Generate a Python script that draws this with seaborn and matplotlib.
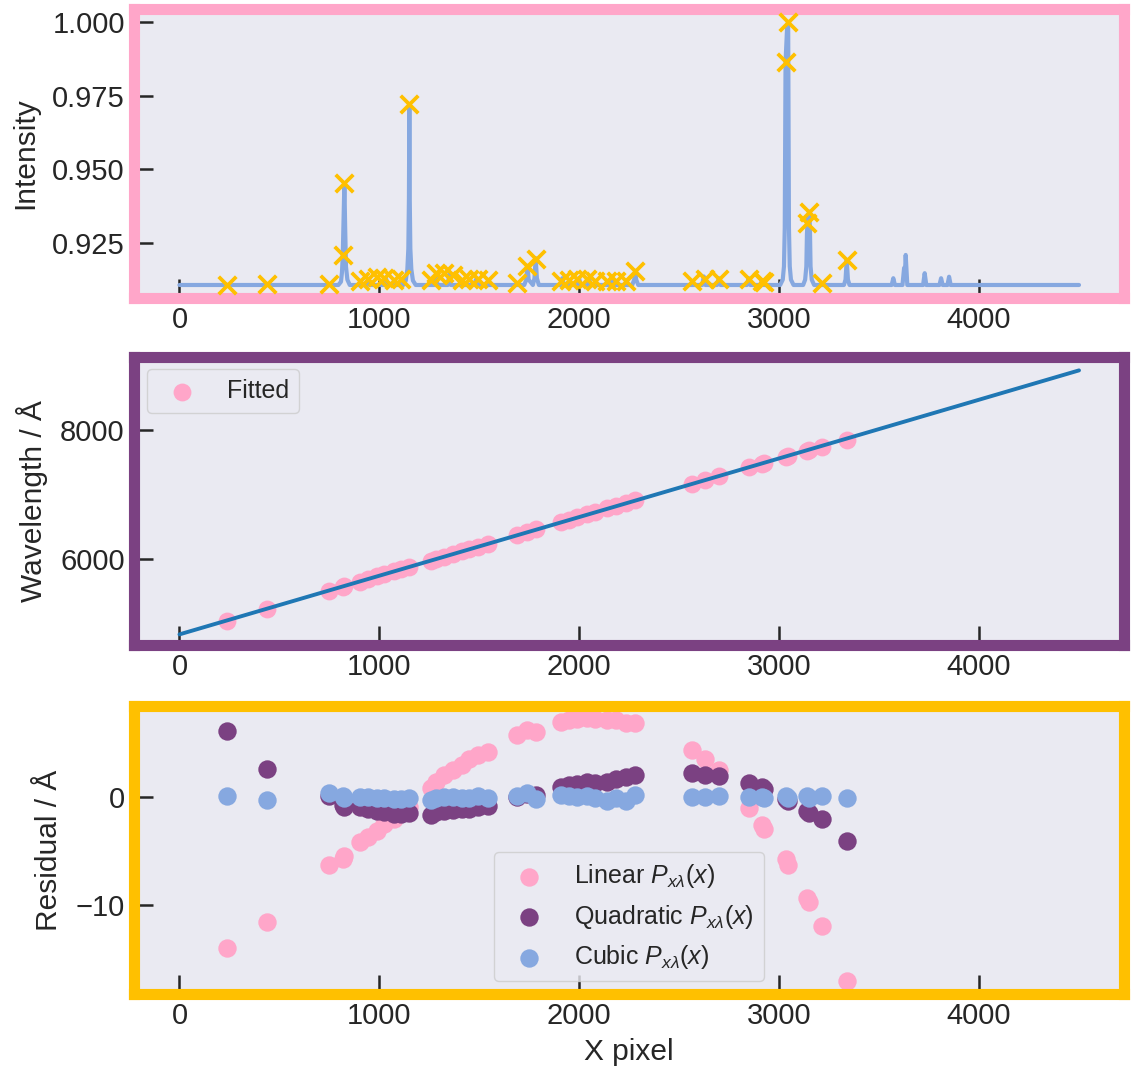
import matplotlib
matplotlib.use("Agg")
import matplotlib.pyplot as plt
import seaborn as sns

# ---------------------------------------------------------------------------
# Arc-lamp spectrum (polyline vertices: pixel, normalised intensity)
# ---------------------------------------------------------------------------
spec_pixel = [
    0,
    795, 808, 813, 817, 821, 825, 829, 833, 840, 852,
    934, 942, 950,
    1025, 1033, 1041,
    1098, 1106, 1114,
    1120, 1132, 1140, 1145, 1148, 1150, 1152, 1155, 1160, 1168, 1182,
    1275, 1283, 1291,
    1342, 1350, 1358,
    1475, 1483, 1491,
    1725, 1735, 1741, 1747, 1768, 1776, 1782, 1788, 1798,
    1907, 1915, 1923,
    1991, 1999, 2007,
    2041, 2049, 2057,
    2157, 2165, 2173,
    2265, 2275, 2280, 2285, 2295,
    2615, 2623, 2631,
    2690, 2698, 2706,
    2839, 2847, 2855,
    2906, 2914, 2922,
    3005, 3018, 3024, 3028, 3032, 3040, 3045, 3049, 3053, 3059, 3072,
    3120, 3130, 3136, 3139, 3142, 3150, 3154, 3157, 3163, 3175,
    3324, 3332, 3336, 3338, 3340, 3344, 3352,
    3563, 3571, 3579,
    3617, 3625, 3629, 3633, 3641,
    3720, 3728, 3736,
    3802, 3810, 3818,
    3842, 3850, 3858,
    4500,
]
spec_intensity = [
    0.9107,
    0.9107, 0.9118, 0.9150, 0.9209, 0.9330, 0.9453, 0.9300, 0.9170, 0.9125, 0.9107,
    0.9107, 0.9124, 0.9107,
    0.9107, 0.9130, 0.9107,
    0.9107, 0.9122, 0.9107,
    0.9107, 0.9122, 0.9160, 0.9230, 0.9400, 0.9721, 0.9400, 0.9230, 0.9160, 0.9122, 0.9107,
    0.9107, 0.9141, 0.9107,
    0.9107, 0.9144, 0.9107,
    0.9107, 0.9125, 0.9107,
    0.9107, 0.9125, 0.9172, 0.9125, 0.9107, 0.9130, 0.9198, 0.9130, 0.9107,
    0.9107, 0.9130, 0.9107,
    0.9107, 0.9130, 0.9107,
    0.9107, 0.9130, 0.9107,
    0.9107, 0.9120, 0.9107,
    0.9107, 0.9125, 0.9155, 0.9125, 0.9107,
    0.9107, 0.9136, 0.9107,
    0.9107, 0.9130, 0.9107,
    0.9107, 0.9130, 0.9107,
    0.9107, 0.9124, 0.9107,
    0.9107, 0.9125, 0.9170, 0.9300, 0.9865, 0.9985, 1.0000, 0.9300, 0.9170, 0.9125, 0.9107,
    0.9107, 0.9125, 0.9170, 0.9280, 0.9320, 0.9356, 0.9300, 0.9170, 0.9125, 0.9107,
    0.9107, 0.9125, 0.9170, 0.9192, 0.9170, 0.9125, 0.9107,
    0.9107, 0.9130, 0.9107,
    0.9107, 0.9165, 0.9140, 0.9209, 0.9107,
    0.9107, 0.9147, 0.9107,
    0.9107, 0.9130, 0.9107,
    0.9107, 0.9135, 0.9107,
    0.9107,
]

# ---------------------------------------------------------------------------
# Identified arc lines
# ---------------------------------------------------------------------------
line_pixel = [
    236, 438, 750, 817, 825, 905, 945, 990, 1025, 1075, 1108, 1150,
    1258, 1283, 1325, 1366, 1415, 1449, 1491, 1541,
    1691, 1741, 1782,
    1907, 1950, 1990, 2040, 2080, 2140, 2182, 2232, 2280,
    2565, 2630, 2698, 2847, 2915, 2925,
    3032, 3045, 3140, 3150, 3214, 3338,
]
line_intensity = [
    0.9108, 0.9109, 0.9109, 0.9209, 0.9453, 0.9122, 0.9126, 0.9134, 0.9130, 0.9124, 0.9126, 0.9721,
    0.9124, 0.9147, 0.9147, 0.9140, 0.9124, 0.9128, 0.9128, 0.9124,
    0.9113, 0.9172, 0.9195,
    0.9122, 0.9124, 0.9126, 0.9128, 0.9120, 0.9122, 0.9120, 0.9120, 0.9155,
    0.9120, 0.9128, 0.9126, 0.9126, 0.9120, 0.9116,
    0.9865, 1.0000, 0.9319, 0.9356, 0.9113, 0.9192,
]
line_wavelength = [
    5031.7, 5217.8, 5506.9, 5568.4, 5575.9, 5650.0, 5686.9, 5728.4, 5760.8, 5806.8, 5837.3, 5876.1,
    5976.1, 5999.4, 6038.2, 6076.0, 6121.1, 6152.5, 6191.1, 6236.9,
    6374.9, 6420.8, 6458.0,
    6572.6, 6611.8, 6648.4, 6693.9, 6730.2, 6784.6, 6822.9, 6868.1, 6911.8,
    7168.5, 7226.7, 7287.6, 7419.6, 7479.9, 7488.6,
    7583.2, 7594.5, 7677.8, 7686.5, 7742.6, 7850.2,
]

# Residuals (Angstrom) of the three dispersion solutions
resid_linear = [
    -14.0, -11.6, -6.3, -5.7, -5.5, -4.15, -3.7, -3.1, -2.5, -2.0, -1.5, -0.9,
    0.8, 1.4, 2.0, 2.5, 3.0, 3.5, 3.9, 4.2,
    5.75, 6.2, 6.05,
    6.95, 7.1, 7.25, 7.3, 7.2, 7.1, 7.15, 6.85, 6.85,
    4.35, 3.5, 2.5, -1.05, -2.6, -3.0,
    -5.75, -6.25, -9.35, -9.75, -11.9, -17.05,
]
resid_quadratic = [
    6.1, 2.6, 0.05, -0.7, -0.9, -0.9, -1.1, -1.3, -1.4, -1.55, -1.6, -1.5,
    -1.7, -1.4, -1.3, -1.2, -1.15, -1.1, -0.95, -0.85,
    0.0, 0.25, 0.15,
    0.9, 1.1, 1.25, 1.4, 1.3, 1.4, 1.7, 1.85, 2.05,
    2.2, 2.0, 1.95, 1.3, 0.9, 0.75,
    -0.2, -0.35, -1.25, -1.45, -2.05, -4.1,
]
resid_cubic = [
    0.1, -0.25, 0.35, 0.1, -0.05, 0.0, 0.0, -0.1, -0.05, -0.2, -0.15, -0.1,
    -0.25, -0.1, 0.0, 0.0, -0.1, -0.1, 0.05, -0.05,
    0.1, 0.35, -0.15,
    0.2, 0.1, 0.0, 0.1, -0.05, -0.4, -0.1, -0.4, 0.15,
    0.0, 0.0, 0.05, 0.0, 0.0, -0.1,
    0.1, -0.05, 0.05, -0.05, 0.1, -0.05,
]

# Linear dispersion solution, evaluated at the detector ends
fit_pixel = [0, 4500]
fit_wavelength = [4831, 8924]

x_ticks = [0, 1000, 2000, 3000, 4000]

# ---------------------------------------------------------------------------
PINK = "#FFA6C9"
PURPLE = "#7B4182"
GOLD = "#FFC000"
BLUE = "#86A8E0"
LINE_BLUE = "#1f77b4"
LABEL_SIZE = 21.5

sns.set_theme(style="dark")
plt.rcParams["font.family"] = ["Liberation Sans", "DejaVu Sans"]
plt.rcParams["mathtext.fontset"] = "custom"
plt.rcParams["mathtext.rm"] = "Liberation Sans"
plt.rcParams["mathtext.it"] = "Liberation Sans:italic"
plt.rcParams["mathtext.bf"] = "Liberation Sans:bold"

fig = plt.figure(figsize=(11.31, 10.71), dpi=100)
left, width = 0.1189, 0.8749
ax1 = fig.add_axes([left, 0.7218, width, 0.2698])
ax2 = fig.add_axes([left, 0.3978, width, 0.2689])
ax3 = fig.add_axes([left, 0.0719, width, 0.2689])

# Spectrum with detected lines
sns.lineplot(x=spec_pixel, y=spec_intensity, ax=ax1, color=BLUE, lw=3.0,
             sort=False, estimator=None)
sns.scatterplot(x=line_pixel, y=line_intensity, ax=ax1, marker="x", s=160,
                color=GOLD, linewidth=2.7, zorder=3)
ax1.set_ylabel("Intensity", fontsize=LABEL_SIZE, labelpad=9)
ax1.set_yticks([0.925, 0.950, 0.975, 1.000])
ax1.set_yticklabels(["0.925", "0.950", "0.975", "1.000"])

# Wavelength solution
sns.scatterplot(x=line_pixel, y=line_wavelength, ax=ax2, color=PINK, s=165,
                linewidth=0, label="Fitted", zorder=2)
sns.lineplot(x=fit_pixel, y=fit_wavelength, ax=ax2, color=LINE_BLUE, lw=2.8,
             zorder=3)
ax2.set_ylabel("Wavelength / Å", fontsize=LABEL_SIZE, labelpad=9)
ax2.set_yticks([6000, 8000])
ax2.legend(loc="upper left", fontsize=18)

# Residuals
sns.scatterplot(x=line_pixel, y=resid_linear, ax=ax3, color=PINK, s=175,
                linewidth=0, label=r"Linear $P_{x\lambda}(x)$", zorder=2)
sns.scatterplot(x=line_pixel, y=resid_quadratic, ax=ax3, color=PURPLE, s=175,
                linewidth=0, label=r"Quadratic $P_{x\lambda}(x)$", zorder=3)
sns.scatterplot(x=line_pixel, y=resid_cubic, ax=ax3, color=BLUE, s=175,
                linewidth=0, label=r"Cubic $P_{x\lambda}(x)$", zorder=4)
ax3.set_ylabel("Residual / Å", fontsize=LABEL_SIZE, labelpad=9)
ax3.set_xlabel("X pixel", fontsize=LABEL_SIZE, labelpad=6)
ax3.set_yticks([-10, 0])
ax3.legend(loc="lower center", fontsize=18)

for ax, edge in ((ax1, PINK), (ax2, PURPLE), (ax3, GOLD)):
    ax.set_xlim(-225, 4725)
    ax.set_xticks(x_ticks)
    ax.tick_params(axis="both", direction="in", length=13.5, width=1.8,
                   color="#262626", labelsize=21, left=True, bottom=True)
    ax.tick_params(axis="y", pad=7)
    ax.tick_params(axis="x", pad=5.5)
    for sp in ax.spines.values():
        sp.set_visible(True)
        sp.set_color(edge)
        sp.set_linewidth(8)
    ax.grid(False)

ax1.set_ylim(0.9063, 1.0044)
ax2.set_ylim(4667, 9132)
ax3.set_ylim(-18.24, 8.43)

fig.savefig("out.png", dpi=100)
